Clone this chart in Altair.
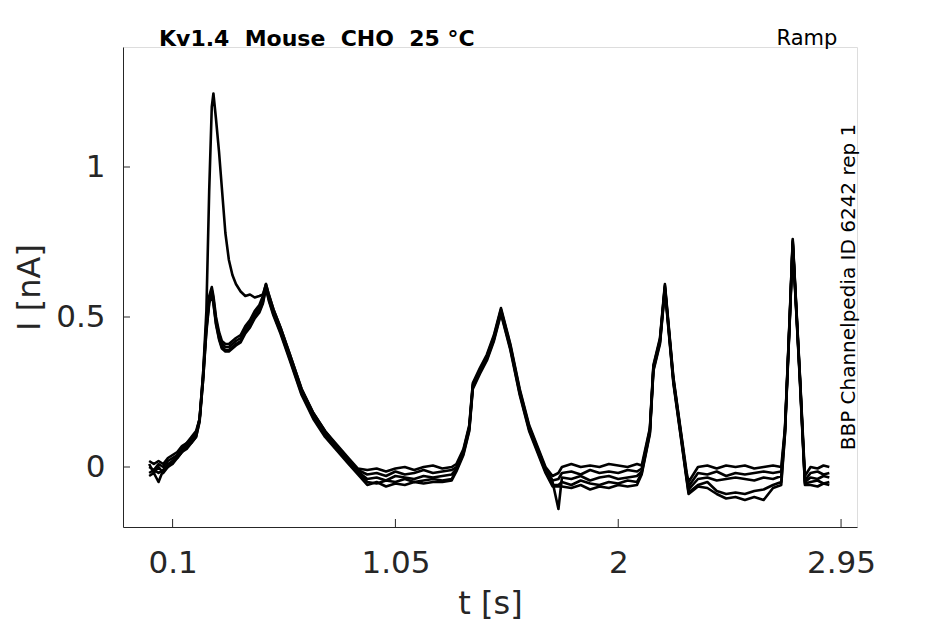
import altair as alt
import pandas as pd

# time knots [s]
T = [0.00, 0.02, 0.04, 0.06, 0.08, 0.10, 0.12, 0.14, 0.16, 0.18, 0.20,
     0.215, 0.23, 0.244, 0.256, 0.267, 0.274, 0.285, 0.298, 0.31, 0.325, 0.34, 0.355, 0.37, 0.39, 0.41, 0.43, 0.45, 0.47, 0.485, 0.498,
     0.51, 0.53, 0.56, 0.60, 0.65, 0.70, 0.75, 0.80, 0.85, 0.89,
     0.93, 0.97, 1.01, 1.05, 1.09, 1.13, 1.17, 1.21, 1.25, 1.29,
     1.31, 1.34, 1.365, 1.38, 1.41, 1.44, 1.47, 1.50, 1.54, 1.58, 1.62, 1.66, 1.69, 1.72,
     1.745, 1.76, 1.80, 1.84, 1.88, 1.92, 1.96, 2.00, 2.04, 2.08, 2.10,
     2.135, 2.15, 2.178, 2.199, 2.235, 2.265, 2.292, 2.30,
     2.34, 2.38, 2.42, 2.46, 2.50, 2.54, 2.58, 2.62, 2.66, 2.695,
     2.711, 2.732, 2.744, 2.775, 2.796,
     2.82, 2.85, 2.875, 2.90]

SWEEP_1 = [0.02, 0.01, 0.02, 0.01, 0.03, 0.04, 0.05, 0.07, 0.08, 0.10, 0.12,
           0.16, 0.31, 0.52, 0.92, 1.20, 1.245, 1.16, 1.05, 0.93, 0.78, 0.69, 0.64, 0.61, 0.585, 0.57, 0.575, 0.565, 0.57, 0.575, 0.61,
           0.575, 0.525, 0.465, 0.375, 0.26, 0.18, 0.12, 0.075, 0.03, -0.005,
           -0.01, -0.005, -0.015, -0.005, 0.0, -0.01, 0.0, 0.005, -0.005, 0.0,
           0.01, 0.06, 0.14, 0.28, 0.33, 0.375, 0.44, 0.53, 0.41, 0.26, 0.14, 0.06, 0.0, -0.03,
           -0.02, 0.0, 0.01, 0.0, 0.005, 0.0, 0.01, 0.005, 0.0, 0.01, 0.005,
           0.13, 0.34, 0.43, 0.61, 0.30, 0.13, -0.02, -0.05,
           0.0, 0.005, -0.005, 0.005, 0.0, 0.005, -0.005, 0.0, 0.005, 0.0,
           0.13, 0.52, 0.76, 0.30, -0.03,
           0.0, -0.005, 0.005, 0.0]

SWEEP_2 = [0.00, -0.01, 0.01, 0.00, 0.02, 0.03, 0.04, 0.06, 0.08, 0.09, 0.11,
           0.16, 0.31, 0.48, 0.57, 0.60, 0.57, 0.50, 0.45, 0.42, 0.41, 0.41, 0.42, 0.43, 0.44, 0.47, 0.49, 0.52, 0.54, 0.57, 0.61,
           0.575, 0.525, 0.465, 0.375, 0.26, 0.18, 0.12, 0.07, 0.025, -0.01,
           -0.025, -0.02, -0.03, -0.015, -0.025, -0.02, -0.01, -0.02, -0.015, -0.01,
           0.0, 0.055, 0.135, 0.275, 0.325, 0.37, 0.435, 0.525, 0.405, 0.255, 0.135, 0.055, -0.005, -0.045,
           -0.04, -0.02, -0.015, -0.025, -0.01, -0.02, -0.015, -0.02, -0.01, -0.015, -0.005,
           0.125, 0.335, 0.425, 0.605, 0.295, 0.125, -0.03, -0.065,
           -0.02, -0.025, -0.015, -0.03, -0.02, -0.025, -0.02, -0.015, -0.02, -0.015,
           0.125, 0.515, 0.755, 0.295, -0.045,
           -0.02, -0.015, -0.025, -0.02]

SWEEP_3 = [-0.02, -0.01, -0.02, -0.01, 0.01, 0.02, 0.03, 0.05, 0.07, 0.09, 0.11,
           0.16, 0.30, 0.47, 0.56, 0.59, 0.56, 0.49, 0.44, 0.41, 0.40, 0.40, 0.41, 0.42, 0.43, 0.46, 0.48, 0.51, 0.53, 0.56, 0.60,
           0.565, 0.515, 0.455, 0.365, 0.25, 0.17, 0.11, 0.065, 0.02, -0.015,
           -0.04, -0.035, -0.045, -0.03, -0.035, -0.04, -0.03, -0.035, -0.03, -0.025,
           -0.005, 0.05, 0.13, 0.27, 0.32, 0.365, 0.43, 0.52, 0.40, 0.25, 0.13, 0.05, -0.01, -0.05,
           -0.14, -0.035, -0.04, -0.03, -0.045, -0.035, -0.03, -0.04, -0.035, -0.03, -0.015,
           0.12, 0.33, 0.42, 0.60, 0.29, 0.12, -0.035, -0.075,
           -0.04, -0.035, -0.045, -0.04, -0.035, -0.04, -0.045, -0.035, -0.04, -0.03,
           0.12, 0.51, 0.75, 0.29, -0.05,
           -0.035, -0.04, -0.03, -0.035]

SWEEP_4 = [0.01, -0.02, 0.00, -0.02, 0.00, 0.02, 0.04, 0.05, 0.07, 0.08, 0.10,
           0.155, 0.29, 0.46, 0.55, 0.58, 0.55, 0.48, 0.43, 0.40, 0.39, 0.39, 0.40, 0.41, 0.42, 0.45, 0.47, 0.50, 0.52, 0.55, 0.60,
           0.56, 0.51, 0.45, 0.36, 0.245, 0.165, 0.105, 0.06, 0.015, -0.02,
           -0.05, -0.055, -0.045, -0.05, -0.04, -0.05, -0.045, -0.04, -0.045, -0.04,
           -0.01, 0.045, 0.125, 0.265, 0.315, 0.36, 0.425, 0.515, 0.395, 0.245, 0.125, 0.045, -0.015, -0.06,
           -0.06, -0.05, -0.06, -0.045, -0.055, -0.06, -0.05, -0.055, -0.045, -0.05, -0.02,
           0.115, 0.325, 0.415, 0.595, 0.285, 0.115, -0.04, -0.085,
           -0.06, -0.05, -0.08, -0.09, -0.085, -0.09, -0.08, -0.075, -0.06, -0.05,
           0.115, 0.505, 0.745, 0.285, -0.055,
           -0.05, -0.045, -0.055, -0.05]

SWEEP_5 = [-0.03, -0.02, -0.05, -0.01, 0.00, 0.01, 0.03, 0.05, 0.06, 0.08, 0.10,
           0.15, 0.29, 0.45, 0.545, 0.575, 0.545, 0.475, 0.425, 0.395, 0.385, 0.385, 0.395, 0.405, 0.415, 0.445, 0.465, 0.495, 0.515, 0.545, 0.595,
           0.555, 0.505, 0.445, 0.355, 0.24, 0.16, 0.10, 0.055, 0.01, -0.025,
           -0.06, -0.05, -0.065, -0.055, -0.06, -0.05, -0.055, -0.05, -0.05, -0.045,
           -0.015, 0.04, 0.12, 0.26, 0.31, 0.355, 0.42, 0.51, 0.39, 0.24, 0.12, 0.04, -0.02, -0.065,
           -0.065, -0.065, -0.07, -0.06, -0.075, -0.065, -0.07, -0.06, -0.065, -0.06, -0.025,
           0.11, 0.32, 0.41, 0.59, 0.28, 0.11, -0.045, -0.09,
           -0.065, -0.07, -0.09, -0.105, -0.10, -0.11, -0.10, -0.11, -0.07, -0.06,
           0.11, 0.50, 0.74, 0.28, -0.06,
           -0.06, -0.065, -0.055, -0.06]

SWEEPS = [SWEEP_1, SWEEP_2, SWEEP_3, SWEEP_4, SWEEP_5]
X_TICKS = [0.1, 1.05, 2, 2.95]
Y_TICKS = [0, 0.5, 1]
NB = "\u00a0"
TITLE = f"Kv1.4 {NB}Mouse {NB}CHO {NB}25 °C"
PROTOCOL = "Ramp"
SIDE_NOTE = "BBP Channelpedia ID 6242 rep 1"

rows = []
for k, s in enumerate(SWEEPS):
    assert len(s) == len(T), (k, len(s), len(T))
    for t, v in zip(T, s):
        rows.append({"t": t, "I": v, "sweep": k})
df = pd.DataFrame(rows)

W, H = 734, 480
AX = "#262626"
FONT = "DejaVu Sans"

xscale = alt.Scale(domain=[-0.1115, 3.018], nice=False, zero=False)
yscale = alt.Scale(domain=[-0.2, 1.4], nice=False, zero=False)

lines = alt.Chart(df).mark_line(color="black", strokeWidth=2.6, strokeJoin="round").encode(
    x=alt.X("t:Q", scale=xscale,
            axis=alt.Axis(values=X_TICKS, format=".3~g", title="t [s]", grid=False,
                          ticks=False, tickSize=0, labelPadding=21, labelFlush=False,
                          labelFontSize=31, labelColor=AX, labelFont=FONT,
                          domainColor=AX, domainWidth=1,
                          titleFontSize=32, titleFontWeight="normal", titleColor=AX,
                          titleFont=FONT, titleY=86, titleBaseline="alphabetic")),
    y=alt.Y("I:Q", scale=yscale,
            axis=alt.Axis(values=Y_TICKS, format=".3~g", title="I [nA]", grid=False,
                          ticks=False, tickSize=0, labelPadding=18, labelFlush=False,
                          labelFontSize=31, labelColor=AX, labelFont=FONT,
                          domainColor=AX, domainWidth=1,
                          titleFontSize=32, titleFontWeight="normal", titleColor=AX,
                          titleFont=FONT, titleX=-84, titleY=H / 2,
                          titleAngle=270, titleBaseline="alphabetic", titleAlign="center")),
    detail="sweep:N",
)

xt = alt.Chart(pd.DataFrame({"t": X_TICKS})).mark_rule(color=AX, strokeWidth=1).encode(
    x=alt.X("t:Q", scale=xscale), y=alt.value(H), y2=alt.value(H - 8))
yt = alt.Chart(pd.DataFrame({"I": Y_TICKS})).mark_rule(color=AX, strokeWidth=1).encode(
    y=alt.Y("I:Q", scale=yscale), x=alt.value(0), x2=alt.value(7))

title = alt.Chart(pd.DataFrame({"s": [TITLE]})).mark_text(
    font=FONT, fontSize=22, fontWeight="bold", color="black", align="left", baseline="middle"
).encode(text="s:N", x=alt.value(36), y=alt.value(-8))

proto = alt.Chart(pd.DataFrame({"s": [PROTOCOL]})).mark_text(
    font=FONT, fontSize=21, color="black", align="center", baseline="middle"
).encode(text="s:N", x=alt.value(684), y=alt.value(-8))

side = alt.Chart(pd.DataFrame({"s": [SIDE_NOTE]})).mark_text(
    font=FONT, fontSize=20, color="black", align="center", baseline="alphabetic", angle=270
).encode(text="s:N", x=alt.value(732), y=alt.value(H / 2))

chart = alt.layer(lines, xt, yt, title, proto, side).properties(
    width=W, height=H,
    padding={"left": 115, "top": 39, "right": 80, "bottom": 97},
    autosize=alt.AutoSizeParams(type="none"),
).configure_view(stroke=None).configure(background="white")

chart.save("out.html", embed_options={"renderer": "svg", "actions": False})
